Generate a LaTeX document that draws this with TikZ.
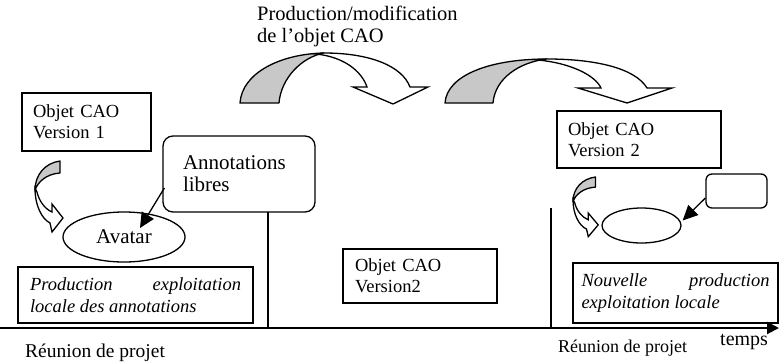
\documentclass[tikz,border=0pt]{standalone}
\usepackage{fontspec}
\setmainfont{Liberation Serif}
\usetikzlibrary{shapes.geometric,arrows.meta,calc}
\definecolor{shade}{RGB}{200,200,200}
\newcommand\myjust{\hyphenpenalty=10000\relax\tolerance=10000\relax\emergencystretch=50pt\relax}
\begin{document}
\begin{tikzpicture}[x=1pt,y=-1pt,
  box/.style={draw, line width=1.3pt, rectangle, inner ysep=0pt, align=left},
  thickbox/.style={draw, line width=2.4pt, rectangle, inner ysep=0pt, align=justify},
  small/.style={font=\fontsize{18.5}{21}\selectfont},
  smallit/.style={font=\fontsize{18.5}{21.5}\selectfont\itshape\myjust},
  big/.style={font=\fontsize{21}{22}\selectfont},
  backband/.style={draw, line width=1.3pt, fill=shade, line join=round},
  frontband/.style={draw, line width=1.3pt, fill=white, line join=miter},
  conn/.style={line width=1.3pt, -{Triangle[length=15pt,width=14pt]}},
  axis/.style={line width=2pt, -{Triangle[length=12pt,width=12pt]}},
  plain/.style={line width=1.3pt},
  label/.style={inner sep=0pt, anchor=base west}
]
\useasboundingbox (0,0) rectangle (779,362);

% title
\node[inner sep=0pt, anchor=north west, align=left, font=\fontsize{20.5}{22}\selectfont] (title) at (257,6) {Production/modification\\de l'objet CAO};

% big curved arrow 1
\draw[backband] (240,103) .. controls (242,73) and (280,54) .. (324,53) .. controls (302,57) and (281,78) .. (279,103) -- cycle;
\draw[frontband] (316,54) .. controls (345,57) and (362,72) .. (367,87) -- (353,87) -- (393,104) -- (428,87) -- (410,87) .. controls (402,66) and (370,53) .. (324,53) -- cycle;

% big curved arrow 2
\draw[backband] (445,103) .. controls (447,75) and (490,59) .. (547,59) .. controls (520,62) and (495,78) .. (493,103) -- cycle;
\draw[frontband] (538,60) .. controls (570,63) and (595,75) .. (601,88) -- (578,88) -- (627,103) -- (672,88) -- (647,88) .. controls (635,68) and (595,59) .. (547,59) -- cycle;

% boxes
\node[box, small, text width=107pt, inner xsep=11pt, minimum height=58pt] (v1) at (86.5,122) {Objet CAO\\Version 1};
\node[box, big, rounded corners=10pt, text width=112pt, inner xsep=20pt, minimum height=76pt] (annot) at (239,174) {Annotations\\libres};
\node[draw, ellipse, line width=1.3pt, minimum width=122pt, minimum height=50pt, inner sep=0pt, big] (avatar) at (124,237) {Avatar};
\node[thickbox, smallit, text width=211pt, inner xsep=12pt, minimum height=56pt] (prod) at (135.5,295) {Production exploitation\linebreak locale des annotations};
\node[box, small, text width=130pt, inner xsep=12pt, minimum height=54pt] (v2c) at (420,276) {Objet CAO\\Version2};
\node[box, small, text width=142pt, inner xsep=11pt, minimum height=57pt] (v2r) at (639,139.5) {Objet CAO\\Version 2};
\node[draw, ellipse, line width=1.3pt, minimum width=79pt, minimum height=35pt, inner sep=0pt] (ell2) at (641.5,225.5) {};
\node[draw, rectangle, rounded corners=6pt, line width=1.3pt, minimum width=61pt, minimum height=34pt, inner sep=0pt] (nb) at (736.5,191) {};
\node[thickbox, smallit, text width=188pt, inner xsep=8.5pt, minimum height=60pt] (nouv) at (675.5,293) {Nouvelle production\linebreak exploitation locale};

% small curved arrows
\begin{scope}[shift={(35,161)}]
  \draw[backband] (25,0) .. controls (10,2) and (0,14) .. (0,29) .. controls (3,21) and (11,13) .. (25,12) -- cycle;
  \draw[frontband] (0,27) .. controls (0,45) and (7,58) .. (15,62) -- (17,71) -- (28,57) -- (17,43) -- (17,51) .. controls (10,48) and (4,40) .. (2,31) -- cycle;
\end{scope}
\begin{scope}[shift={(573,177)}, xscale=0.9, yscale=0.84]
  \draw[backband] (25,0) .. controls (10,2) and (0,14) .. (0,29) .. controls (3,21) and (11,13) .. (25,12) -- cycle;
  \draw[frontband] (0,27) .. controls (0,45) and (7,58) .. (15,62) -- (17,71) -- (28,57) -- (17,43) -- (17,51) .. controls (10,48) and (4,40) .. (2,31) -- cycle;
\end{scope}

% connectors
\draw[conn] ($(annot.west)+(2,14)$) -- ($(avatar.center)+(16,-9)$);
\draw[conn] ($(nb.west)+(0,7)$) -- ($(ell2.east)+(1,-5)$);

% time axis and milestones
\coordinate (ax0) at (0,328);
\coordinate (ax1) at (779,328);
\draw[axis] (ax0) -- (ax1);
\coordinate (m1) at (268,212);
\coordinate (m2) at (551,208);
\draw[plain] (m1) -- (m1 |- ax0);
\draw[plain] (m2) -- (m2 |- ax0);

% labels
\node[label, font=\fontsize{19.5}{22}\selectfont] (r1) at (25,357) {Réunion de projet};
\node[label, font=\fontsize{18}{21}\selectfont] (r2) at (558,352) {Réunion de projet};
\node[label, font=\fontsize{20}{22}\selectfont] (tps) at (720,345) {temps};
\end{tikzpicture}
\end{document}
